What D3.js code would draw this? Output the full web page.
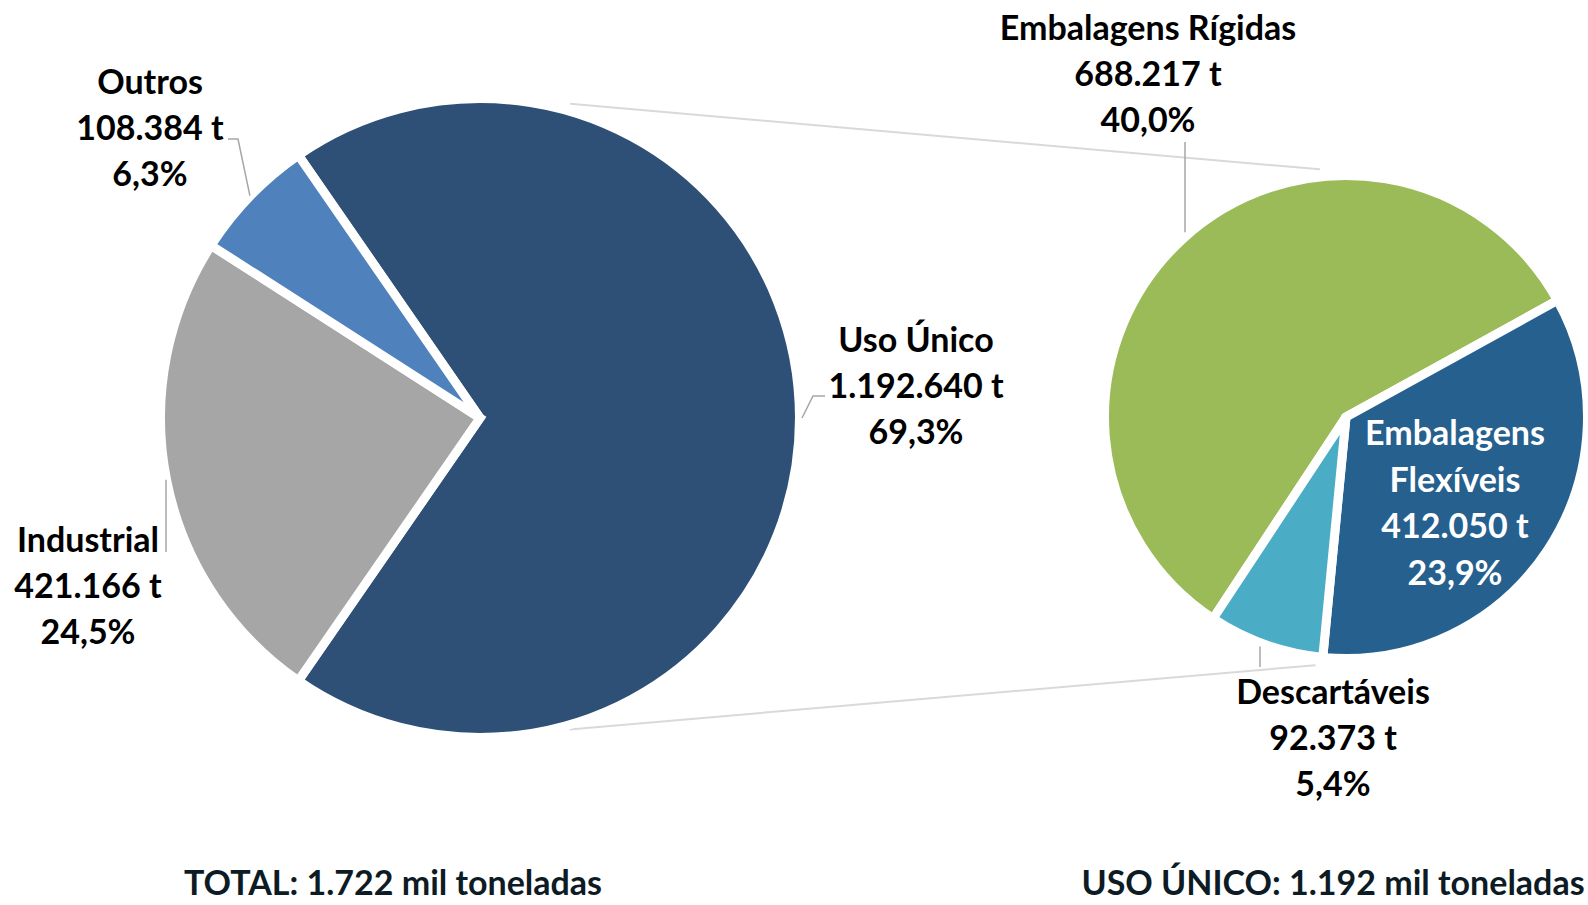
<!DOCTYPE html>
<html>
<head>
<meta charset="utf-8">
<script src="https://cdn.jsdelivr.net/npm/d3@7"></script>
<style>
  html, body { margin: 0; padding: 0; background: #fff; }
  svg { display: block; }
  text { font-family: Lato, 'Open Sans', sans-serif; font-weight: 700; }
</style>
</head>
<body>
<svg id="chart" width="1588" height="905"></svg>
<script>
// primary pie: total plastic
const mainCategories = ['Uso Único', 'Industrial', 'Outros'];
const mainValues = [1192640, 421166, 108384];
const mainColors = ['#2e5077', '#a6a6a6', '#4f81bd'];

// secondary pie: breakdown of "Uso Único"
const subCategories = ['Embalagens Rígidas', 'Embalagens Flexíveis', 'Descartáveis'];
const subValues = [688217, 412050, 92373];
const subColors = ['#9bbb59', '#26608f', '#4bacc6'];

const footerNames = ['TOTAL', 'USO ÚNICO'];

const total = d3.sum(mainValues);
const locale = d3.formatLocale({ decimal: ',', thousands: '.', grouping: [3], currency: ['', ''] });
const fmtInt = locale.format(',d');
const fmtPct = locale.format('.1%');

const svg = d3.select('#chart');
const rad = deg => deg * Math.PI / 180;
const polar = (p, deg, r) => [p.cx + r * Math.sin(rad(deg)), p.cy - r * Math.cos(rad(deg))];

// layout
const left = { cx: 480, cy: 418, r: 315 };
const right = { cx: 1346, cy: 417, r: 237 };
const gap = 9; // white border between slices
const fontSize = 34;
const lineH = 46;

// primary pie: "Uso Único" centred on 3 o'clock
const usoSpan = 2 * Math.PI * mainValues[0] / total;
const mainPie = d3.pie().sort(null)
  .startAngle(Math.PI / 2 - usoSpan / 2)
  .endAngle(Math.PI / 2 - usoSpan / 2 + 2 * Math.PI);
const subPie = d3.pie().sort(null)
  .startAngle(rad(-146.6))
  .endAngle(rad(-146.6) + 2 * Math.PI);

function drawPie(p, values, colors, pie) {
  const arcs = pie(values);
  const arc = d3.arc().innerRadius(0).outerRadius(p.r + gap / 2);
  svg.append('g')
    .attr('transform', `translate(${p.cx},${p.cy})`)
    .selectAll('path')
    .data(arcs)
    .join('path')
    .attr('d', arc)
    .attr('fill', (d, i) => colors[i])
    .attr('stroke', '#fff')
    .attr('stroke-width', gap);
  return arcs;
}

// connector lines between the pies (drawn first, under everything)
const connectors = [
  [polar(left, 16, left.r + 12), polar(right, -6, right.r + 12)],
  [polar(left, 164, left.r + 9), polar(right, 187, right.r + 13)]
];
svg.append('g').selectAll('line')
  .data(connectors)
  .join('line')
  .attr('x1', d => d[0][0]).attr('y1', d => d[0][1])
  .attr('x2', d => d[1][0]).attr('y2', d => d[1][1])
  .attr('stroke', '#d9d9d9')
  .attr('stroke-width', 2);

const mainArcs = drawPie(left, mainValues, mainColors, mainPie);
const subArcs = drawPie(right, subValues, subColors, subPie);

// label layout: first baseline position, leader line description
const mainLabelLayout = [
  { x: 916, y: 352, leader: { kind: 'elbow', from: [825, 396], knee: [813, 396], r: left.r + 7 } },
  { x: 88, y: 552, leader: { kind: 'vertical', x: 166, from: 552, r: left.r + 5, below: true } },
  { x: 150, y: 94, leader: { kind: 'elbow', from: [228, 139], knee: [238, 139], r: left.r + 5 } }
];
const subLabelLayout = [
  { x: 1148, y: 40, leader: { kind: 'vertical', x: 1185, from: 142, r: right.r + 8, below: false } },
  { x: 1455, y: 445, fill: '#fff', wrap: true, lh: 46.5 },
  { x: 1333, y: 704, leader: { kind: 'vertical', x: 1260, from: 667, r: right.r + 8, below: true } }
];

const midDeg = a => ((a.startAngle + a.endAngle) / 2) * 180 / Math.PI;

function drawLabels(p, arcs, names, values, layout) {
  const g = svg.append('g');
  arcs.forEach((a, i) => {
    const L = layout[i];
    // leader line
    if (L.leader) {
      const ld = L.leader;
      let pts;
      if (ld.kind === 'elbow') {
        pts = [ld.from, ld.knee, polar(p, midDeg(a), ld.r)];
      } else {
        const dx = ld.x - p.cx;
        const dy = Math.sqrt(ld.r * ld.r - dx * dx);
        pts = [[ld.x, ld.from], [ld.x, ld.below ? p.cy + dy : p.cy - dy]];
      }
      g.append('path')
        .attr('d', d3.line()(pts))
        .attr('fill', 'none')
        .attr('stroke', '#a6a6a6')
        .attr('stroke-width', 1.5);
    }
    const nameLines = L.wrap ? names[i].split(' ') : [names[i]];
    const lines = nameLines.concat([fmtInt(values[i]) + ' t', fmtPct(values[i] / total)]);
    const t = g.append('text')
      .attr('text-anchor', 'middle')
      .attr('font-size', fontSize)
      .attr('fill', L.fill || '#000');
    lines.forEach((s, k) => {
      t.append('tspan')
        .attr('x', L.x)
        .attr('y', L.y + k * (L.lh || lineH))
        .text(s);
    });
  });
}

drawLabels(left, mainArcs, mainCategories, mainValues, mainLabelLayout);
drawLabels(right, subArcs, subCategories, subValues, subLabelLayout);

// footers
const footerValues = [total, mainValues[0]];
const footerX = [393, 1333];
svg.append('g').selectAll('text')
  .data(footerNames)
  .join('text')
  .attr('x', (d, i) => footerX[i])
  .attr('y', 895)
  .attr('text-anchor', 'middle')
  .attr('font-size', fontSize)
  .attr('fill', '#0d1b24')
  .text((d, i) => `${d}: ${fmtInt(Math.floor(footerValues[i] / 1000))} mil toneladas`);
</script>
</body>
</html>
